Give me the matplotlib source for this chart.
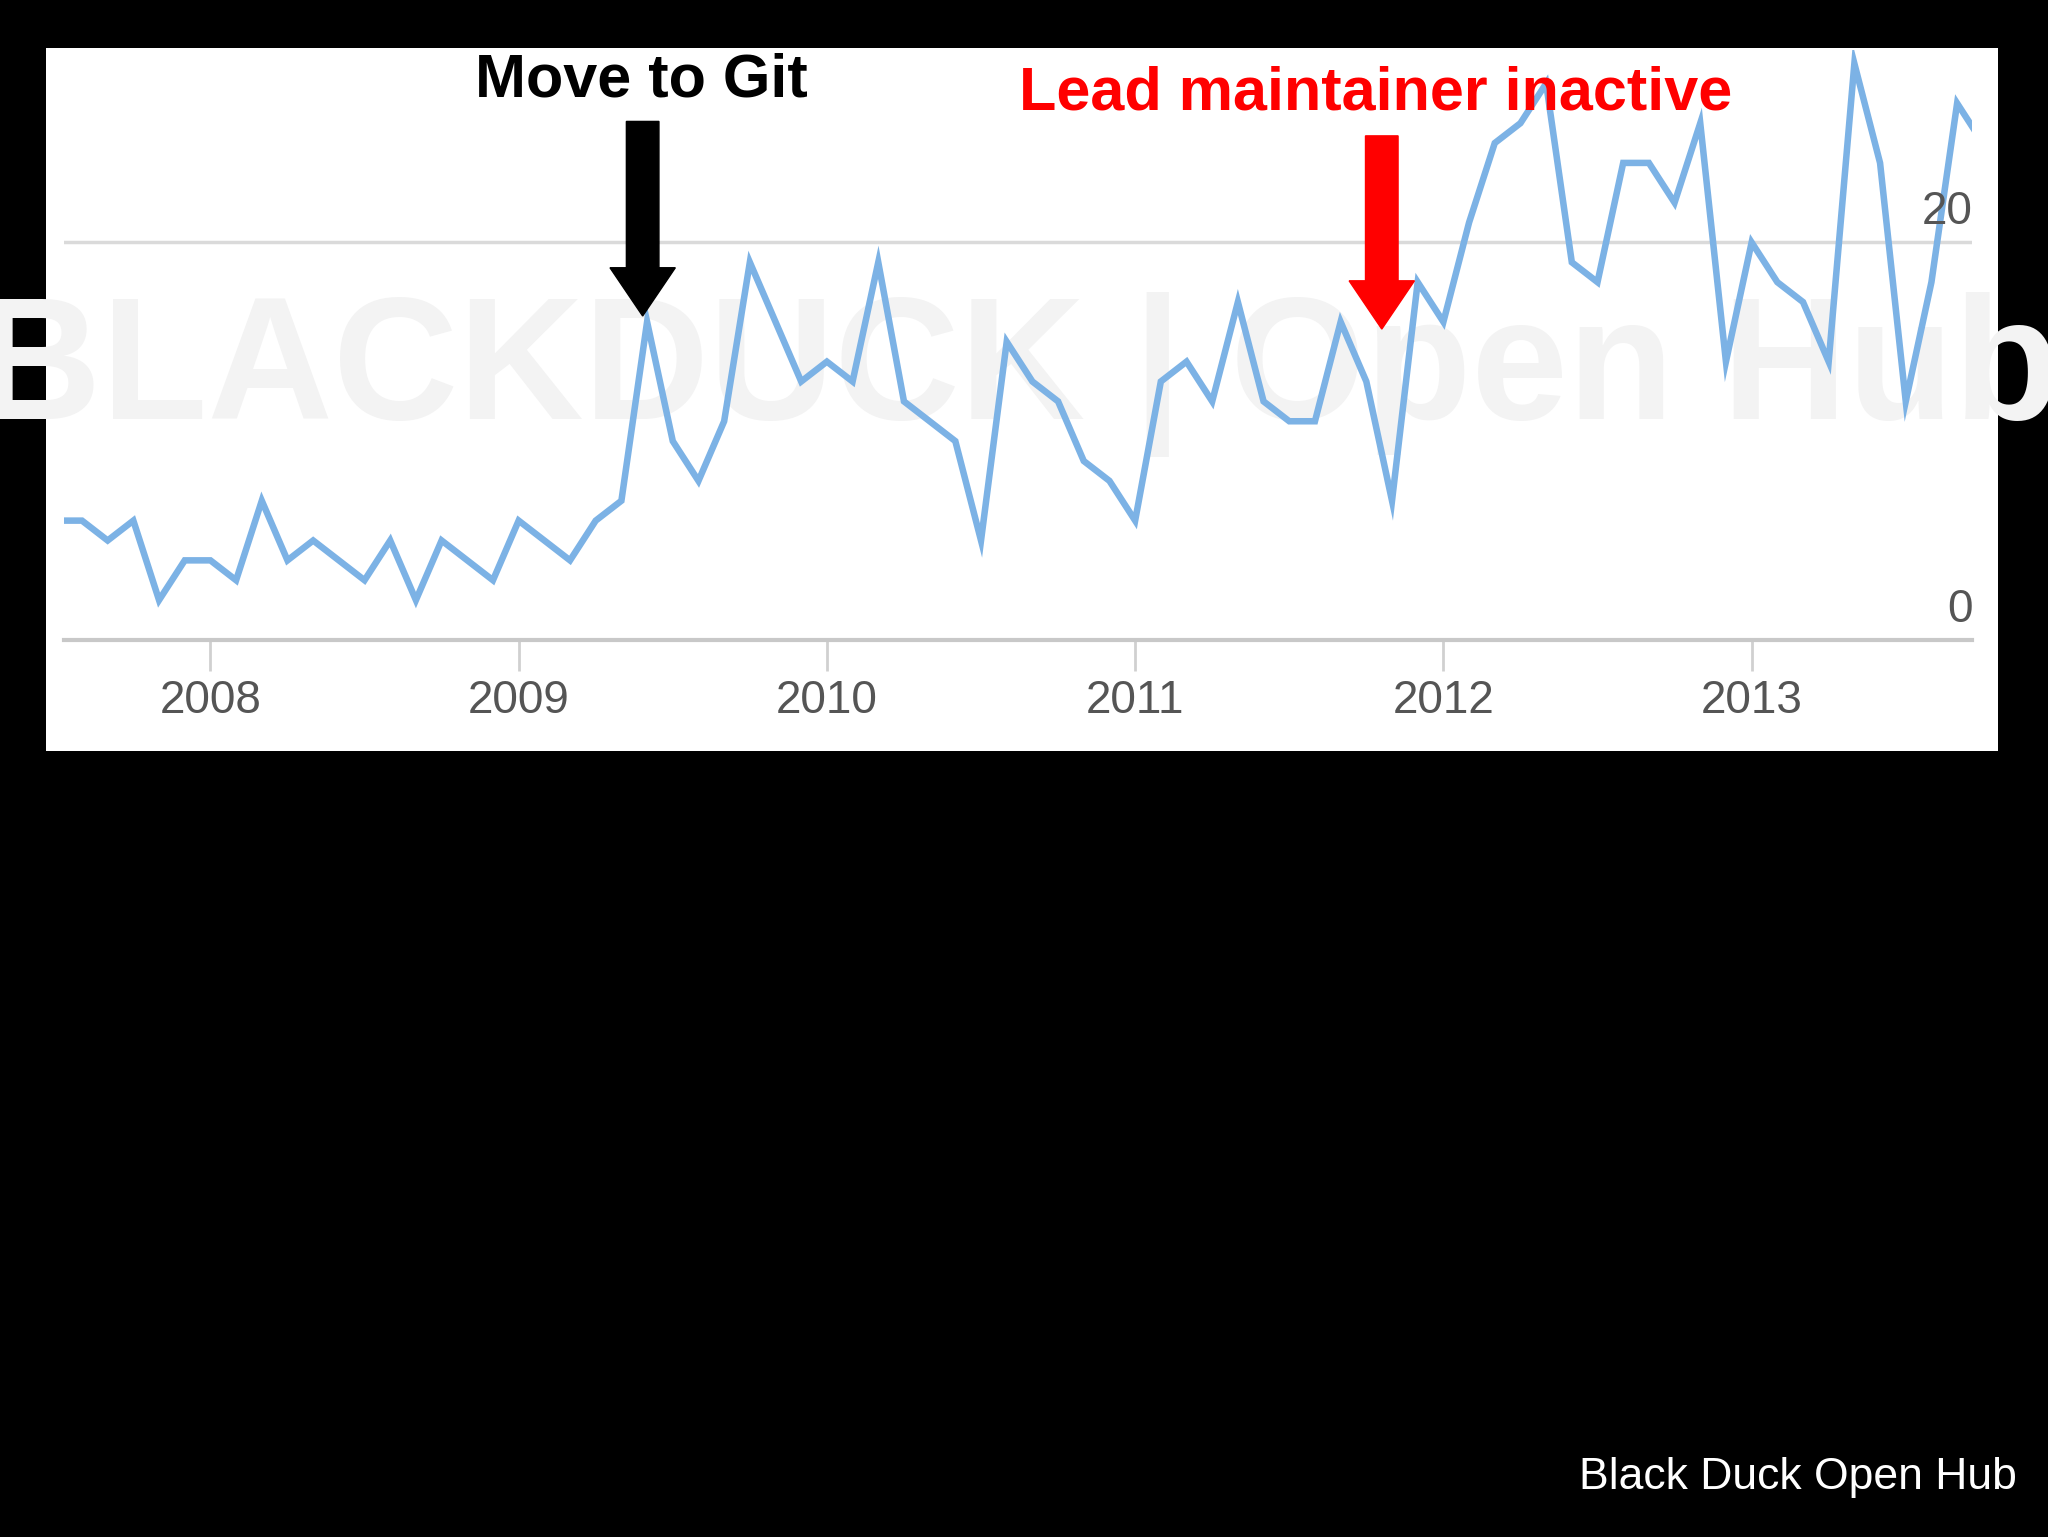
import matplotlib.pyplot as plt
from matplotlib.patches import Rectangle, FancyArrow

# monthly commits, starting July 2007
start_year = 2007.5
commits = [6, 6, 5, 6, 2, 4, 4, 3, 7, 4, 5, 4, 3, 5, 2, 5, 4, 3, 6, 5, 4, 6, 7, 16,
           10, 8, 11, 19, 16, 13, 14, 13, 19, 12, 11, 10, 5, 15, 13, 12, 9, 8, 6, 13,
           14, 12, 17, 12, 11, 11, 16, 13, 7, 18, 16, 21, 25, 26, 28, 19, 18, 24, 24,
           22, 26, 14, 20, 18, 17, 14, 29, 24, 12, 18, 27, 25]
years = [2008, 2009, 2010, 2011, 2012, 2013]
t = [start_year + i / 12 for i in range(len(commits))]

fig = plt.figure(figsize=(20.48, 15.37), dpi=100, facecolor='black')
plt.rcParams['font.family'] = ['Liberation Sans', 'DejaVu Sans']

bg = Rectangle((0.0223, 0.5115), 0.9535, 0.4571, transform=fig.transFigure,
               facecolor='white', zorder=-10)
fig.patches.append(bg)

ax = fig.add_axes([0.03125, 0.5837, 0.9318, 0.384])
ax.set_facecolor('none')
wm = ax.text(0.5, 0.45, 'BLACKDUCK | Open Hub', transform=ax.transAxes, ha='center',
             va='center', fontsize=125, fontweight='bold', color='#f3f3f3', zorder=0)
wm.set_clip_path(bg)
ax.plot(t, commits, color='#7cb2e5', lw=4.7, solid_joinstyle='miter', zorder=3)
ax.axhline(20, color='#dadada', lw=2.5, zorder=1)
ax.set_xlim(2007.525, 2013.716)
ax.set_ylim(0, 29.7)
for s in ['top', 'left', 'right']:
    ax.spines[s].set_visible(False)
ax.spines['bottom'].set_color('#c8c8c8')
ax.spines['bottom'].set_linewidth(3)
ax.set_xticks(years)
ax.set_xticklabels([str(y) for y in years])
ax.tick_params(axis='x', length=22, width=2, color='#d0d0d0', pad=6,
               labelsize=33, labelcolor='#555555')
ax.set_yticks([])
ax.text(2013.716, 20.4, '20', ha='right', va='bottom', fontsize=33, color='#555555')
ax.text(2013.716, 0.4, '0', ha='right', va='bottom', fontsize=33, color='#555555')

fig.text(0.3131, 0.9473, 'Move to Git', ha='center', va='center', fontsize=44,
         fontweight='bold', color='black')
fig.text(0.6716, 0.9388, 'Lead maintainer inactive', ha='center', va='center', fontsize=44,
         fontweight='bold', color='#ff0000')

for x, y0, y1, c in [(0.3138, 0.921, 0.7944, 'black'), (0.6747, 0.9116, 0.7859, '#ff0000')]:
    fig.patches.append(FancyArrow(x, y0, 0, y1 - y0, width=0.0159, head_width=0.0319,
                                  head_length=0.0314, length_includes_head=True,
                                  transform=fig.transFigure, color=c, zorder=5))

fig.text(0.985, 0.039, 'Black Duck Open Hub', ha='right', va='center', fontsize=32,
         color='white')

fig.savefig('out.png', dpi=100, facecolor='black')
